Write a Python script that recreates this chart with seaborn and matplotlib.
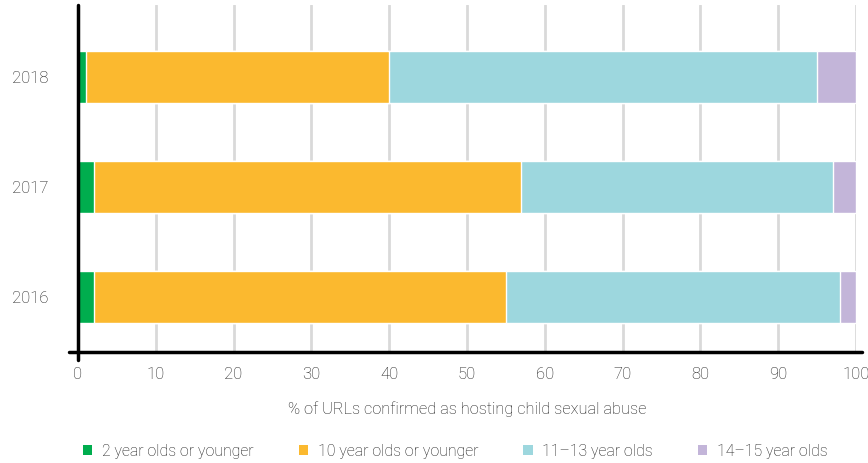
import pandas as pd
import numpy as np
import matplotlib
matplotlib.use('agg')
import matplotlib.pyplot as plt
import seaborn as sns
from matplotlib.patches import Patch

# data (percent of URLs)
years = ['2018', '2017', '2016']
age_groups = ['2 year olds or younger', '10 year olds or younger',
              '11\u201313 year olds', '14\u201315 year olds']
under_2 = [1, 2, 2]
under_10 = [39, 55, 53]
age_11_13 = [55, 40, 43]
age_14_15 = [5, 3, 2]
colors = ['#00AD4E', '#FBB92F', '#9DD7DE', '#C3B5D9']

df = pd.DataFrame({'year': years, age_groups[0]: under_2, age_groups[1]: under_10,
                   age_groups[2]: age_11_13, age_groups[3]: age_14_15})
cum = df[age_groups].cumsum(axis=1)
cum['year'] = df['year']

sns.set_style('white')
plt.rcParams['font.family'] = ['Roboto', 'DejaVu Sans']
TXT = '#1a1a1a'

fig = plt.figure(figsize=(8.68, 4.63), dpi=100)
ax = fig.add_axes([78/868, 1-352/463, (856-78)/868, (352-5)/463])

# stacked bars: draw widest cumulative first
for grp, col in reversed(list(zip(age_groups, colors))):
    sns.barplot(data=cum, x=grp, y='year', order=years, color=col,
                width=0.48, orient='h', saturation=1, ax=ax, zorder=3)

ax.set_xlim(0, 100)
ax.set_ylim(2.5, -0.655)
ax.set_xticks(range(0, 101, 10))
ax.xaxis.grid(True, color='#d9d9d9', linewidth=2, zorder=0)
ax.set_axisbelow(True)
for s in ax.spines.values():
    s.set_visible(False)
ax.tick_params(axis='both', length=0, labelsize=12, colors=TXT)
ax.tick_params(axis='y', pad=21)
ax.tick_params(axis='x', pad=11)
for lab in ax.get_xticklabels() + ax.get_yticklabels():
    lab.set_fontweight('light')
ax.set_ylabel('')
ax.set_xlabel('% of URLs confirmed as hosting child sexual abuse', fontsize=11.8,
              fontweight='light', color=TXT, labelpad=14)

# axis lines crossing at the origin
ax.plot([-0.011, 1.008], [0, 0], transform=ax.transAxes, color='black',
        linewidth=2.5, clip_on=False, zorder=5)
ax.plot([0, 0], [-0.022, 1.0], transform=ax.transAxes, color='black',
        linewidth=2.5, clip_on=False, zorder=5)

handles = [Patch(facecolor=c, edgecolor='none') for c in colors]
leg = fig.legend(handles, age_groups, loc='lower left', bbox_to_anchor=(0.079, -0.022),
                 ncol=4, frameon=False, handlelength=0.6, handleheight=0.6,
                 handletextpad=0.6, columnspacing=2.85,
                 prop={'size': 11.4, 'weight': 'light'})
for t in leg.get_texts():
    t.set_color(TXT)

fig.savefig('out.png', dpi=100)
